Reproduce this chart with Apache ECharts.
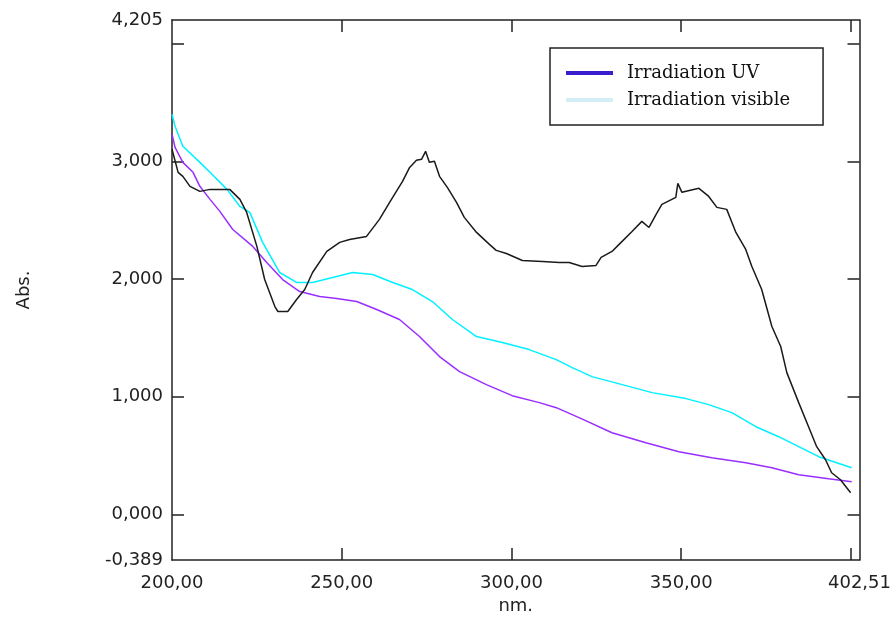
<!DOCTYPE html>
<html>
<head>
<meta charset="utf-8">
<script src="https://cdn.jsdelivr.net/npm/echarts@6/dist/echarts.min.js"></script>
<style>
html,body{margin:0;padding:0;background:#fff;}
#chart{width:894px;height:621px;}
</style>
</head>
<body>
<div id="chart"></div>
<script>
// Wavelength (nm) / absorbance pairs
const blackCurve = [
[200.0,3.105],[201.8,2.909],[203.2,2.875],[205.3,2.790],[208.2,2.747],[211.2,2.764],[214.1,2.764],[217.0,2.764],
[220.0,2.679],[222.0,2.568],[225.0,2.279],[227.3,1.997],[230.3,1.767],[231.2,1.725],[234.1,1.725],[236.7,1.827],
[239.1,1.912],[241.4,2.057],[245.6,2.236],[249.4,2.313],[252.3,2.338],[257.3,2.364],[261.1,2.509],[264.1,2.653],
[267.9,2.832],[270.0,2.951],[272.0,3.011],[273.5,3.020],[274.7,3.088],[275.8,2.994],[277.3,3.003],[278.8,2.875],
[281.1,2.781],[283.8,2.653],[286.1,2.526],[289.7,2.398],[293.5,2.296],[295.5,2.245],[298.5,2.219],[303.2,2.159],
[309.1,2.151],[314.1,2.142],[317.0,2.142],[320.8,2.108],[324.9,2.117],[326.4,2.185],[329.6,2.236],[331.7,2.296],
[335.5,2.406],[338.4,2.492],[340.5,2.440],[342.6,2.551],[344.3,2.636],[348.4,2.696],[349.0,2.815],[350.2,2.739],
[355.2,2.773],[358.1,2.704],[360.5,2.611],[363.4,2.594],[366.1,2.398],[369.0,2.253],[370.8,2.108],[373.7,1.912],
[376.7,1.597],[379.3,1.427],[381.1,1.205],[384.6,0.950],[387.5,0.745],[389.9,0.575],[392.5,0.464],[394.3,0.353],
[396.9,0.294],[399.9,0.183]
];
const uvCurve = [
[200.0,3.233],[200.9,3.122],[203.2,2.994],[206.2,2.909],[208.2,2.790],[211.2,2.679],[214.1,2.577],[217.9,2.423],
[223.8,2.279],[227.9,2.142],[232.6,1.997],[237.6,1.895],[243.5,1.853],[248.5,1.836],[254.4,1.810],[260.3,1.742],
[267.0,1.657],[272.9,1.512],[278.8,1.342],[284.7,1.214],[292.6,1.103],[300.2,1.009],[308.2,0.950],[313.2,0.907],
[319.9,0.822],[329.6,0.694],[339.6,0.609],[349.3,0.532],[359.0,0.481],[369.0,0.439],[376.7,0.396],[384.6,0.336],
[393.4,0.302],[400.2,0.277]
];
const visibleCurve = [
[200.0,3.403],[200.9,3.301],[203.2,3.131],[208.2,2.994],[211.2,2.909],[216.2,2.764],[220.0,2.619],[222.9,2.568],
[226.7,2.313],[231.7,2.057],[236.7,1.972],[241.4,1.972],[248.5,2.023],[253.2,2.057],[259.1,2.040],[265.0,1.972],
[270.8,1.912],[276.7,1.810],[282.6,1.657],[289.7,1.512],[297.3,1.461],[305.2,1.401],[313.2,1.316],[317.9,1.248],
[323.7,1.171],[332.6,1.103],[341.4,1.035],[351.4,0.984],[358.1,0.933],[364.9,0.865],[372.0,0.745],[378.7,0.660],
[384.6,0.575],[390.5,0.490],[400.2,0.396]
];
const xMin = 200, xMax = 402.51;
const yMin = -0.389, yMax = 4.205;
const xTickValues = [250, 300, 350, 400];
const xLabelValues = [200, 250, 300, 350, 402.51];
const yTickValues = [0, 1, 2, 3, 4];
const yLabelValues = [-0.389, 0, 1, 2, 3, 4.205];
const legendNames = ['Irradiation UV', 'Irradiation visible'];

const chart = echarts.init(document.getElementById('chart'));
const axisLine = {show: true, onZero: false, lineStyle: {color: '#222', width: 1.5}};
const tickStyle = {lineStyle: {color: '#222', width: 1.5}};
const labelFont = {fontFamily: 'DejaVu Sans', fontSize: 18, color: '#222'};
const fmt = d => v => v.toFixed(d).replace('.', ',');

chart.setOption({
  animation: false,
  backgroundColor: '#fff',
  grid: {left: 172, right: 33, top: 20, bottom: 61, containLabel: false},
  legend: {
    left: 550, top: 48, orient: 'vertical', selectedMode: false,
    padding: [15, 33, 15, 16], itemGap: 7, itemWidth: 47, itemHeight: 4,
    borderColor: '#222', borderWidth: 1.5, backgroundColor: '#fff',
    textStyle: {fontFamily: 'DejaVu Serif', fontSize: 18, lineHeight: 20, color: '#111', padding: [0, 0, 0, 9]},
    data: [
      {name: legendNames[0], icon: 'rect', itemStyle: {color: '#3a1dcc'}},
      {name: legendNames[1], icon: 'rect', itemStyle: {color: '#d4eef6'}}
    ]
  },
  xAxis: [
    {type: 'value', min: xMin, max: xMax, position: 'bottom',
     name: 'nm.', nameLocation: 'middle', nameGap: 37,
     nameTextStyle: labelFont,
     axisLine: axisLine,
     axisTick: {show: true, inside: true, length: 12, customValues: xTickValues, ...tickStyle},
     axisLabel: {show: true, margin: 14, customValues: xLabelValues, formatter: fmt(2), ...labelFont},
     splitLine: {show: false}},
    {type: 'value', min: xMin, max: xMax, position: 'top',
     axisLine: axisLine,
     axisTick: {show: true, inside: true, length: 12, customValues: xTickValues, ...tickStyle},
     axisLabel: {show: false}, splitLine: {show: false}}
  ],
  yAxis: [
    {type: 'value', min: yMin, max: yMax, position: 'left',
     name: 'Abs.', nameLocation: 'middle', nameGap: 139, nameRotate: 90,
     nameTextStyle: {fontFamily: 'DejaVu Sans', fontSize: 18, color: '#222'},
     axisLine: axisLine,
     axisTick: {show: true, inside: true, length: 12, customValues: yTickValues, ...tickStyle},
     axisLabel: {show: true, margin: 9, customValues: yLabelValues, formatter: fmt(3), ...labelFont},
     splitLine: {show: false}},
    {type: 'value', min: yMin, max: yMax, position: 'right',
     axisLine: axisLine,
     axisTick: {show: true, inside: true, length: 12, customValues: yTickValues, ...tickStyle},
     axisLabel: {show: false}, splitLine: {show: false}}
  ],
  series: [
    {name: 'Référence', type: 'line', data: blackCurve, showSymbol: false, symbol: 'none',
     lineStyle: {color: '#1a1a1a', width: 1.5}, color: '#1a1a1a', z: 3},
    {name: legendNames[0], type: 'line', data: uvCurve, showSymbol: false, symbol: 'none',
     lineStyle: {color: '#9a2eff', width: 1.5}, color: '#9a2eff', z: 2},
    {name: legendNames[1], type: 'line', data: visibleCurve, showSymbol: false, symbol: 'none',
     lineStyle: {color: '#00f0ff', width: 1.5}, color: '#00f0ff', z: 1}
  ]
});
</script>
</body>
</html>
